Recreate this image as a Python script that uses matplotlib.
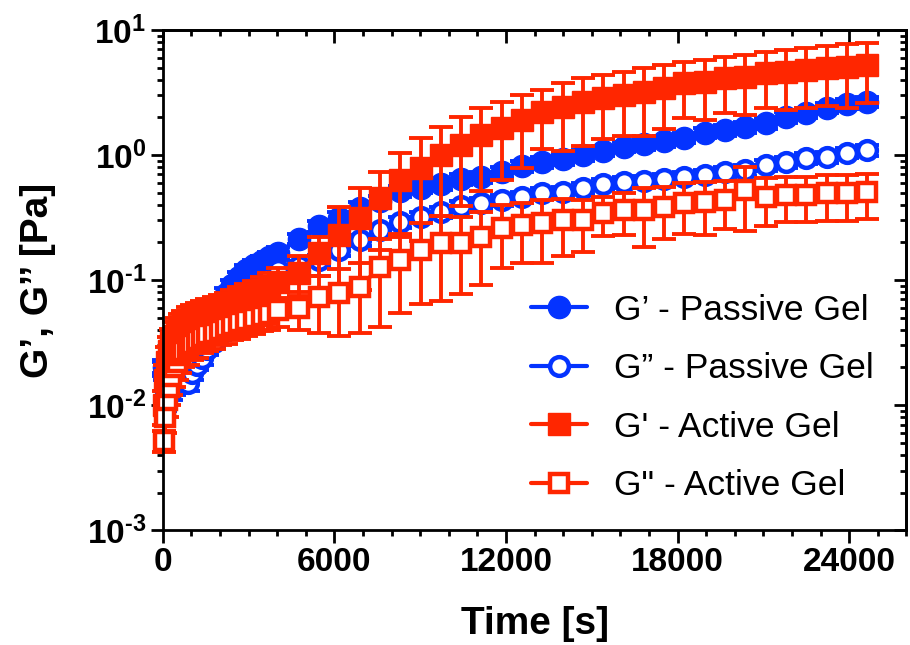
# -*- coding: utf-8 -*-
import numpy as np
import matplotlib
matplotlib.use('Agg')
import matplotlib.pyplot as plt
import matplotlib.ticker as mt

# 色
BLUE = '#0433FF'
RED = '#FF2600'

# 時間 [s]
time_s = [30, 90, 150, 210, 300, 390, 480, 600, 720, 870, 1020, 1200, 1380, 1560, 1770, 1980,
          2200, 2430, 2670, 2920, 3180, 3450, 3720,
          4040, 4750, 5460, 6170, 6880, 7590, 8300, 9010, 9720, 10430, 11140, 11850, 12560,
          13270, 13980, 14690, 15400, 16110, 16820, 17530, 18240, 18950, 19660, 20370, 21080,
          21790, 22500, 23210, 23920, 24630]

# G' passive
gp_passive = [0.020, 0.018, 0.020, 0.022, 0.025, 0.028, 0.030, 0.033, 0.036, 0.040, 0.043, 0.046,
              0.050, 0.054, 0.058, 0.065, 0.078, 0.092, 0.105, 0.120, 0.132, 0.143, 0.153,
              0.166, 0.214, 0.269, 0.316, 0.380, 0.427, 0.513, 0.55, 0.589, 0.646, 0.667, 0.731,
              0.813, 0.881, 0.923, 1.0, 1.08, 1.17, 1.22, 1.29, 1.38, 1.50, 1.58, 1.67, 1.80,
              2.0, 2.17, 2.38, 2.56, 2.65]
gp_passive_sd = [0.002, 0.002, 0.002, 0.002, 0.003, 0.003, 0.003, 0.003, 0.004, 0.004, 0.004, 0.005,
                 0.005, 0.005, 0.006, 0.007, 0.008, 0.009, 0.011, 0.012, 0.013, 0.014, 0.015,
                 0.017, 0.021, 0.027, 0.032, 0.038, 0.043, 0.05, 0.055, 0.06, 0.065, 0.067, 0.07,
                 0.08, 0.09, 0.09, 0.1, 0.1, 0.11, 0.12, 0.12, 0.13, 0.14, 0.15, 0.16, 0.17,
                 0.19, 0.2, 0.22, 0.24, 0.25]

# G'' passive
gpp_passive = [0.020, 0.011, 0.014, 0.016, 0.013, 0.014, 0.015, 0.016, 0.015, 0.015, 0.018, 0.021,
               0.024, 0.028, 0.032, 0.037, 0.043, 0.050, 0.058, 0.066, 0.077, 0.090, 0.105,
               0.12, 0.129, 0.145, 0.174, 0.209, 0.251, 0.291, 0.319, 0.35, 0.391, 0.413, 0.437,
               0.461, 0.497, 0.506, 0.545, 0.586, 0.61, 0.62, 0.643, 0.667, 0.69, 0.73, 0.76, 0.83,
               0.88, 0.946, 0.96, 1.04, 1.10]
gpp_passive_sd = [0.003, 0.002, 0.002, 0.002, 0.002, 0.002, 0.002, 0.002, 0.002, 0.002, 0.002, 0.002,
                  0.003, 0.003, 0.003, 0.004, 0.004, 0.005, 0.006, 0.007, 0.008, 0.009, 0.01,
                  0.012, 0.013, 0.015, 0.017, 0.02, 0.025, 0.03, 0.03, 0.035, 0.04, 0.04, 0.044,
                  0.046, 0.05, 0.05, 0.055, 0.06, 0.06, 0.065, 0.065, 0.07, 0.07, 0.075, 0.08, 0.085,
                  0.09, 0.095, 0.1, 0.1, 0.11]

# G' active
gp_active = [0.010, 0.016, 0.022, 0.027, 0.032, 0.036, 0.039, 0.042, 0.045, 0.048, 0.050, 0.052,
             0.054, 0.056, 0.058, 0.060, 0.063, 0.066, 0.070, 0.074, 0.078, 0.083, 0.089,
             0.096, 0.115, 0.164, 0.229, 0.313, 0.453, 0.631, 0.787, 1.0, 1.2, 1.445, 1.644,
             1.905, 2.21, 2.42, 2.655, 2.858, 3.02, 3.19, 3.436, 3.767, 3.837, 4.13, 4.207, 4.529,
             4.613, 4.786, 4.966, 5.058, 5.248]
gp_active_sd = [0.003, 0.005, 0.007, 0.008, 0.009, 0.010, 0.011, 0.012, 0.012, 0.013, 0.013, 0.014,
                0.014, 0.015, 0.015, 0.016, 0.016, 0.017, 0.018, 0.019, 0.02, 0.022, 0.025,
                0.03, 0.04, 0.057, 0.155, 0.23, 0.28, 0.41, 0.58, 0.675, 0.81, 0.93, 1.01,
                1.11, 1.10, 1.35, 1.48, 1.51, 1.59, 1.78, 1.81, 1.78, 1.92, 1.95, 2.10, 2.14,
                2.31, 2.39, 2.48, 2.67, 2.62]

# G'' active
gpp_active = [0.0052, 0.0080, 0.011, 0.014, 0.017, 0.020, 0.022, 0.025, 0.027, 0.029, 0.031, 0.033,
              0.035, 0.037, 0.038, 0.040, 0.042, 0.044, 0.046, 0.048, 0.050, 0.052, 0.054,
              0.0575, 0.0597, 0.073, 0.0787, 0.088, 0.127, 0.145, 0.174, 0.198, 0.198, 0.221, 0.261,
              0.275, 0.286, 0.302, 0.302, 0.344, 0.363, 0.363, 0.384, 0.413, 0.421, 0.437, 0.525,
              0.461, 0.479, 0.479, 0.497, 0.497, 0.506]
gpp_active_sd = [0.001, 0.002, 0.003, 0.004, 0.005, 0.006, 0.006, 0.007, 0.007, 0.008, 0.008, 0.009,
                 0.009, 0.010, 0.010, 0.010, 0.011, 0.011, 0.012, 0.012, 0.013, 0.013, 0.014,
                 0.015, 0.02, 0.035, 0.043, 0.05, 0.085, 0.09, 0.11, 0.13, 0.12, 0.129, 0.137,
                 0.138, 0.15, 0.145, 0.135, 0.117, 0.134, 0.18, 0.17, 0.18, 0.19, 0.18, 0.28,
                 0.19, 0.19, 0.19, 0.2, 0.2, 0.2]

labels = ["G’ - Passive Gel", "G” - Passive Gel", "G' - Active Gel", 'G" - Active Gel']

plt.rcParams['font.family'] = ['Liberation Sans', 'DejaVu Sans']
plt.rcParams['mathtext.fontset'] = 'custom'
plt.rcParams['mathtext.rm'] = 'Liberation Sans:bold'
plt.rcParams['mathtext.bf'] = 'Liberation Sans:bold'
plt.rcParams['mathtext.it'] = 'Liberation Sans:bold'

fig = plt.figure(figsize=(9.1, 6.45), dpi=100)
ax = fig.add_axes([0.179, 0.178, 0.817, 0.7755])

series = [
    (gp_passive, gp_passive_sd, 'o', BLUE, BLUE),
    (gpp_passive, gpp_passive_sd, 'o', BLUE, 'white'),
    (gp_active, gp_active_sd, 's', RED, RED),
    (gpp_active, gpp_active_sd, 's', RED, 'white'),
]

handles = []
for (vals, sd, mk, col, fc), lab in zip(series, labels):
    ax.errorbar(time_s, vals, yerr=sd, fmt='none', ecolor=col, elinewidth=2.8,
                capsize=8.5, capthick=2.8, clip_on=False)
    if fc == 'white':
        ms, mew = 13.5, 3.2
    else:
        ms, mew = 16, 1
    ln, = ax.plot(time_s, vals, marker=mk, color=col, mfc=fc, mec=col, ms=ms, mew=mew,
                  lw=3, solid_capstyle='round', label=lab, clip_on=False)
    handles.append(ln)


def log_fmt(v, p):
    e = int(round(np.log10(v)))
    if e < 0:
        return r'$\mathbf{10^{\text{-}%d}}$' % (-e)
    return r'$\mathbf{10^{%d}}$' % e


ax.set_yscale('log')
ax.set_ylim(1e-3, 10)
ax.set_xlim(0, 26000)
ax.set_xticks([0, 6000, 12000, 18000, 24000])
ax.xaxis.set_minor_locator(mt.MultipleLocator(1000))
ax.yaxis.set_major_locator(mt.LogLocator(base=10, numticks=10))
ax.yaxis.set_minor_locator(mt.LogLocator(base=10, subs=range(2, 10), numticks=20))
ax.yaxis.set_minor_formatter(mt.NullFormatter())
ax.yaxis.set_major_formatter(mt.FuncFormatter(log_fmt))

for s in ax.spines.values():
    s.set_linewidth(2.0)

ax.tick_params(which='major', direction='out', length=9, width=2.0, labelsize=24, pad=3)
ax.tick_params(which='minor', direction='out', length=4.5, width=2.0)
ax.tick_params(top=False, right=False, which='both')
for t in ax.get_xticklabels():
    t.set_fontweight('bold')

# 上と右の軸（内向き目盛り）
secx = ax.secondary_xaxis('top')
secx.set_xticks([0, 6000, 12000, 18000, 24000])
secx.xaxis.set_minor_locator(mt.MultipleLocator(1000))
secx.xaxis.set_major_formatter(mt.NullFormatter())
secx.tick_params(which='major', direction='in', length=9, width=2.0)
secx.tick_params(which='minor', direction='in', length=4.5, width=2.0)
secx.spines['top'].set_linewidth(2.0)

secy = ax.secondary_yaxis('right')
secy.yaxis.set_major_locator(mt.LogLocator(base=10, numticks=10))
secy.yaxis.set_minor_locator(mt.LogLocator(base=10, subs=range(2, 10), numticks=20))
secy.yaxis.set_major_formatter(mt.NullFormatter())
secy.yaxis.set_minor_formatter(mt.NullFormatter())
secy.tick_params(which='major', direction='in', length=9, width=2.0)
secy.tick_params(which='minor', direction='in', length=4.5, width=2.0)
secy.spines['right'].set_linewidth(2.0)

ax.set_xlabel('Time [s]', fontsize=28, fontweight='bold', labelpad=20)
ax.set_ylabel('G’, G’’ [Pa]', fontsize=28, fontweight='bold', labelpad=22)

ax.legend(handles, labels, loc='upper left', bbox_to_anchor=(513 / 910, 1 - 276 / 645),
          bbox_transform=fig.transFigure, frameon=False, fontsize=25.5, borderpad=0,
          handlelength=1.6, handletextpad=0.75, labelspacing=0.72)

plt.savefig('out.png', dpi=100)
